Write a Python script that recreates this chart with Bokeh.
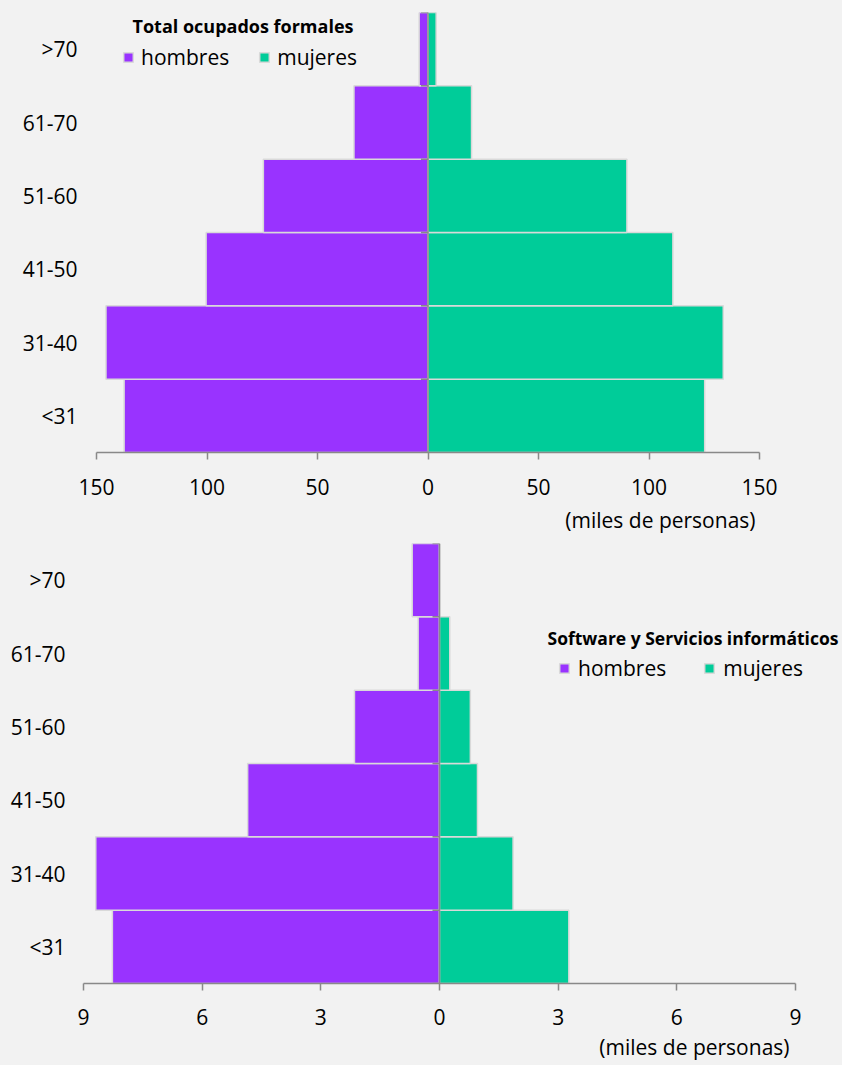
import re
from bokeh.plotting import figure
from bokeh.models import (Range1d, FactorRange, FixedTicker, Span, Legend, LegendItem,
                          Label, Title, ColumnDataSource)
from bokeh.layouts import column
from bokeh.embed import file_html
from bokeh.resources import INLINE

# ---------------- data ----------------
age_groups = ["<31", "31-40", "41-50", "51-60", "61-70", ">70"]

total_hombres = [137.5, 145.7, 100.4, 74.5, 33.5, 4.0]
total_mujeres = [125.2, 133.6, 110.8, 90.0, 19.7, 3.7]

soft_hombres = [8.27, 8.69, 4.85, 2.15, 0.54, 0.69]
soft_mujeres = [3.27, 1.86, 0.96, 0.78, 0.26, 0.0]

total_ticks = [-150, -100, -50, 0, 50, 100, 150]
soft_ticks = [-9, -6, -3, 0, 3, 6, 9]

title_total = "Total ocupados formales"
title_soft = "Software y Servicios informáticos"
label_h = "hombres"
label_m = "mujeres"
x_title = "(miles de personas)"

# ---------------- style ----------------
BG = "#F2F2F2"
PURPLE = "#9933FF"
GREEN = "#00CC99"
EDGE = "#D9D9D9"
AXIS = "#898989"
FONT = "Open Sans"
TXT = "#000000"


def pyramid(hombres, mujeres, ticks, axis_px, extra_left, extra_right, frame_h,
            b_left, b_right, b_top, b_bottom, y_standoff, x_standoff, title, title_xy,
            title_size, legend_xy, legend_spacing, legend_standoff, xlab_offset,
            xlab_standoff):
    lim = ticks[-1]
    unit = 2 * lim / axis_px          # data units per pixel
    p = figure(x_range=Range1d(-lim - extra_left * unit, lim + extra_right * unit),
               y_range=FactorRange(*age_groups),
               frame_width=axis_px + extra_left + extra_right, frame_height=frame_h,
               min_border_left=b_left, min_border_right=b_right,
               min_border_top=b_top, min_border_bottom=b_bottom,
               output_backend="svg", toolbar_location=None)
    p.background_fill_color = BG
    p.border_fill_color = BG
    p.outline_line_color = None
    p.xgrid.visible = False
    p.ygrid.visible = False

    src = ColumnDataSource(dict(
        y=age_groups,
        left_h=[-v for v in hombres],
        right_m=list(mujeres),
        zero=[0] * len(age_groups),
    ))
    rh = p.hbar(y="y", left="left_h", right="zero", height=1.0, source=src,
                fill_color=PURPLE, line_color=EDGE, line_width=1.5)
    rm = p.hbar(y="y", left="zero", right="right_m", height=1.0, source=src,
                fill_color=GREEN, line_color=EDGE, line_width=1.5)

    # vertical category axis at zero with small outside ticks between categories
    stub = 7 * unit
    bounds = [(c, -0.5) for c in age_groups] + [(age_groups[-1], 0.5)]
    p.segment(x0=[0] * len(bounds), x1=[-stub] * len(bounds), y0=bounds, y1=bounds,
              line_color=AXIS, line_width=1.5)
    p.add_layout(Span(location=0, dimension="height", line_color=AXIS, line_width=1.5))

    # x axis
    xa = p.xaxis[0]
    xa.bounds = (-lim, lim)
    xa.ticker = FixedTicker(ticks=ticks)
    xa.major_label_overrides = {t: str(abs(t)) for t in ticks}
    xa.axis_line_color = AXIS
    xa.axis_line_width = 1.5
    xa.major_tick_line_color = AXIS
    xa.major_tick_line_width = 1.5
    xa.major_tick_out = 7
    xa.major_tick_in = 0
    xa.minor_tick_line_color = None
    xa.major_label_text_font = FONT
    xa.major_label_text_font_size = "21px"
    xa.major_label_text_color = TXT
    xa.major_label_standoff = x_standoff

    # y axis (labels only)
    ya = p.yaxis[0]
    ya.axis_line_color = None
    ya.major_tick_line_color = None
    ya.major_tick_out = 0
    ya.major_tick_in = 0
    ya.minor_tick_line_color = None
    ya.major_label_text_font = FONT
    ya.major_label_text_font_size = "21px"
    ya.major_label_text_color = TXT
    ya.major_label_standoff = y_standoff

    legend = Legend(items=[LegendItem(label=label_h, renderers=[rh]),
                           LegendItem(label=label_m, renderers=[rm])],
                    orientation="horizontal",
                    location=(legend_xy[0] + extra_left, legend_xy[1]),
                    glyph_width=12, glyph_height=12, label_standoff=legend_standoff,
                    spacing=legend_spacing, padding=0, margin=0,
                    label_text_font=FONT, label_text_font_size="21px",
                    label_text_color=TXT, label_height=12,
                    background_fill_alpha=0, border_line_alpha=0)
    p.add_layout(legend)

    p.add_layout(Label(x=title_xy[0] + extra_left, y=title_xy[1],
                       x_units="screen", y_units="screen",
                       text=title, text_font=FONT, text_font_style="bold",
                       text_font_size=title_size, text_color=TXT,
                       text_align="center", text_baseline="middle"))
    p.add_layout(Title(text=x_title, align="right", offset=xlab_offset,
                       standoff=xlab_standoff, text_font=FONT, text_font_size="21px",
                       text_font_style="normal", text_color=TXT), "below")
    return p


# both frames start at x=83 so that the column keeps them where they belong
p_top = pyramid(total_hombres, total_mujeres, total_ticks,
                axis_px=663, extra_left=13, extra_right=0, frame_h=440,
                b_left=83, b_right=83, b_top=12, b_bottom=88,
                y_standoff=6, x_standoff=19,
                title=title_total, title_xy=(146.5, 427), title_size="18px",
                legend_xy=(26, 381), legend_spacing=29, legend_standoff=7,
                xlab_offset=4, xlab_standoff=13)

p_bot = pyramid(soft_hombres, soft_mujeres, soft_ticks,
                axis_px=712, extra_left=0, extra_right=47, frame_h=440,
                b_left=83, b_right=0, b_top=3, b_bottom=81,
                y_standoff=18, x_standoff=18,
                title=title_soft, title_xy=(609.5, 346), title_size="17.5px",
                legend_xy=(475, 301), legend_spacing=37, legend_standoff=8,
                xlab_offset=53, xlab_standoff=7)

layout = column(p_top, p_bot, spacing=0, styles={"background-color": BG})

html = file_html(layout, INLINE)
html = re.sub(r"<body([^>]*)>", r'<body\1 style="background-color:#F2F2F2;">', html, count=1)
html = html.replace("</head>", "<style>html, body { background-color: #F2F2F2; }</style></head>", 1)
open("out.html", "w").write(html)
